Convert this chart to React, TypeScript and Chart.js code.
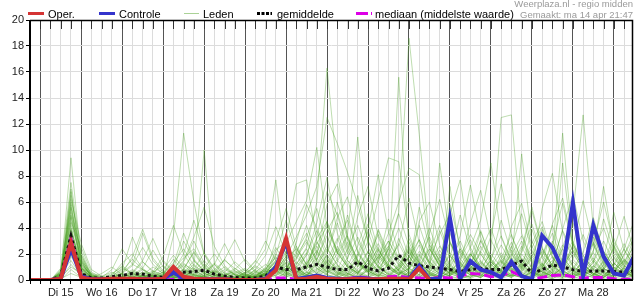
import React, { useEffect, useRef } from 'react';
import { Chart, registerables } from 'chart.js';

Chart.register(...registerables);

// Time axis: one step = 6 hours, step 0 = ma 14 18:00
const dayLabels = ['Di 15', 'Wo 16', 'Do 17', 'Vr 18', 'Za 19', 'Zo 20', 'Ma 21', 'Di 22', 'Wo 23', 'Do 24', 'Vr 25', 'Za 26', 'Zo 27', 'Ma 28'];
const yTicks = [0, 2, 4, 6, 8, 10, 12, 14, 16, 18, 20];

const oper: (number | null)[] = [
  0, 0, 0, 0.1, 2.85, 0.2, 0.05, 0.05, 0.1, 0.1,
  0.1, 0.05, 0.05, 0.1, 1.0, 0.25, 0.1, 0.05, 0.05, 0.05,
  0, 0, 0, 0.05, 0.75, 3.2, 0.05, 0.1, 0.25, 0.1,
  0.05, 0.05, 0.1, 0.05, 0.05, 0.1, 0.1, 0.05, 0.9, 0,
  null, null, null, null, null, null, null, null, null, null,
  null, null, null, null, null, null, null, null, null, null,
];

const controle = [
  0, 0, 0, 0.1, 2.4, 0.3, 0.05, 0.05, 0.05, 0.05,
  0.05, 0.05, 0.05, 0.1, 0.6, 0.1, 0.05, 0.05, 0.05, 0.05,
  0, 0, 0, 0.1, 1.0, 2.9, 0.1, 0.2, 0.35, 0.15,
  0.1, 0.05, 0.15, 0.1, 0.05, 0.05, 0.1, 0.1, 1.1, 0.05,
  0.1, 4.75, 0.1, 1.45, 0.8, 0.6, 0.2, 1.4, 0.3, 0.05,
  3.4, 2.5, 0.8, 5.95, 0.35, 4.2, 1.8, 0.5, 0.35, 1.85,
];

const gemiddelde = [
  0, 0, 0, 0.3, 3.4, 0.5, 0.15, 0.15, 0.25, 0.35,
  0.5, 0.45, 0.3, 0.2, 0.5, 0.6, 0.65, 0.75, 0.45, 0.3,
  0.2, 0.15, 0.15, 0.3, 1.0, 0.8, 0.8, 1.0, 1.2, 1.0,
  0.8, 0.8, 1.4, 0.9, 0.7, 0.9, 1.9, 1.3, 1.1, 1.0,
  0.9, 0.8, 0.65, 0.8, 0.9, 0.8, 0.8, 1.15, 1.45, 0.5,
  0.8, 1.15, 1.0, 0.8, 0.65, 0.7, 0.7, 0.65, 0.6, 0.7,
];

const mediaan = [
  0, 0, 0, 0.1, 3.2, 0.2, 0, 0, 0, 0,
  0.05, 0.05, 0, 0, 0.05, 0.1, 0.05, 0.05, 0, 0,
  0, 0, 0, 0, 0.15, 0.15, 0.05, 0.05, 0.1, 0.05,
  0.05, 0.1, 0.25, 0.15, 0.05, 0.25, 0.3, 0.2, 0.15, 0.1,
  0.2, 0.15, 0.3, 0.5, 0.45, 0.25, 0.3, 0.65, 0.3, 0.05,
  0.2, 0.35, 0.4, 0.25, 0.15, 0.2, 0.2, 0.1, 0.05, 0.05,
];

// Ensemble members ("Leden")
const leden: number[][] = [
  [0,0,0,0.5,9.4,1.5,0.1,0,0.2,0.4, 0.3,0.1,0,0.2,0.5,1.2,0.8,0.3,0.1,0, 0,0.2,0.5,0.3,1.2,2.5,1.8,0.9,3.2,4.5, 2.1,1.0,0.6,1.5,2.8,1.2,0.4,0.9,2.2,1.4, 0.6,0.3,1.8,3.5,2.0,0.8,0.5,1.1,2.6,0.9, 0.4,1.3,3.8,2.2,0.7,0.3,1.2,2.9,1.6,0.8],
  [0,0,0,0.8,7.5,2.0,0.3,0.1,0,0, 0.2,0.6,0.3,0.1,3.4,11.3,6.0,2.0,0.5,0.2, 0.1,0,0.3,0.8,2.0,1.1,0.5,1.4,2.9,1.6, 0.8,2.4,4.2,2.0,1.0,0.5,0.3,1.8,3.1,1.2, 0.4,2.8,1.1,0.6,0.3,1.5,4.6,2.1,0.9,0.4, 0.2,0.9,2.4,1.0,0.5,3.3,1.4,0.6,0.3,1.0],
  [0,0,0,0.3,7.0,1.0,0.2,0,0.1,0.6, 1.2,0.8,0.2,0,0.3,0.5,1.0,10.0,1.2,0.3, 0.1,0.4,0.2,0.5,1.5,0.8,2.2,3.6,1.5,0.7, 0.4,1.1,2.6,5.1,2.3,1.0,0.6,0.3,0.9,2.7, 1.5,0.7,0.4,1.2,3.0,1.4,0.6,0.3,1.1,2.5, 4.1,1.8,0.7,0.3,1.5,2.8,0.9,0.4,2.0,3.2],
  [0,0,0,0.2,6.5,1.8,0.2,0,0,0.1, 0.2,0.4,0.1,0,0.2,0.6,0.4,0.2,0.8,1.5, 0.9,0.3,0.1,0.4,2.3,3.0,1.2,2.5,6.0,16.3, 8.3,3.2,1.5,0.8,1.8,3.0,1.6,0.7,0.4,1.3, 2.6,1.1,0.5,0.2,0.9,2.0,1.0,0.4,0.2,0.7, 1.9,3.6,1.4,0.6,0.3,0.8,2.2,1.0,0.5,0.3],
  [0,0,0,0.6,6.0,1.2,0.4,0.2,0,0, 0.1,0.3,0.7,0.4,0.9,1.7,2.4,1.1,0.4,0.1, 0,0.1,0.6,1.2,0.7,1.8,3.3,5.0,7.2,12.5, 10.5,8.3,5.8,3.0,1.4,0.6,1.0,2.4,1.3,0.5, 0.3,1.0,2.2,0.9,0.4,0.2,0.8,1.9,3.4,1.5, 0.6,0.3,1.1,2.6,1.2,0.5,0.2,0.7,1.6,0.8],
  [0,0,0,0.1,5.5,0.7,0,0,0.3,0.9, 0.5,0.2,0,0.1,0.4,0.2,0.8,2.1,0.9,0.3, 0.2,0.5,1.1,0.6,0.9,2.8,4.5,6.1,10.2,4.0, 2.2,1.0,0.5,1.6,3.9,2.0,0.8,0.4,1.5,3.3, 1.4,0.6,0.3,2.0,1.0,0.4,1.3,2.9,1.2,0.5, 2.4,1.1,0.5,0.2,0.9,2.3,4.0,1.8,0.7,0.3],
  [0,0,0,0.4,5.0,1.5,0.5,0.1,0,0, 0,0.1,0.3,0.8,1.9,0.9,0.4,0.2,0.1,0.3, 0.7,0.4,0.1,0.2,0.8,1.6,2.4,1.2,2.8,4.1, 2.0,3.5,11.0,2.5,1.1,0.5,0.9,2.1,1.0,0.4, 0.2,0.6,1.6,3.1,1.4,0.6,0.3,1.0,2.1,4.3, 1.9,0.8,0.4,1.4,0.6,0.3,0.9,2.5,1.1,0.5],
  [0,0,0,0.2,4.8,1.0,0.2,0,0.4,1.3, 2.0,0.9,0.3,0.1,0.6,1.3,0.6,0.2,0,0, 0.1,0.3,0.2,0.5,1.1,0.6,1.7,2.9,1.5,3.8, 5.2,2.6,1.2,3.0,6.2,9.4,9.1,3.5,1.4,0.6, 1.5,0.7,0.3,0.9,2.2,1.0,0.5,0.2,0.6,1.8, 0.8,3.0,1.3,0.5,0.2,1.1,0.5,0.3,1.4,2.6],
  [0,0,0,0.5,4.5,2.5,0.6,0.2,0.1,0.3, 0.8,0.4,0.1,0,0.1,0.5,1.5,0.7,0.3,0.6, 1.4,0.7,0.3,0.9,1.7,1.0,0.5,1.3,2.2,1.1, 3.0,4.6,2.1,1.0,2.5,1.0,15.6,2.2,0.8,0.4, 1.2,2.9,1.3,0.5,0.2,0.7,1.5,0.6,0.3,1.0, 2.2,1.0,0.4,0.2,0.8,1.7,0.7,0.3,0.9,2.0],
  [0,0,0,0.3,4.0,0.8,0.1,0,0,0.2, 0.5,1.4,0.7,0.3,0.8,0.4,0.1,0.5,1.3,0.6, 0.2,0.1,0.4,0.2,0.6,1.4,0.7,0.3,1.1,2.4, 1.2,0.5,1.8,3.7,1.6,2.6,5.2,18.6,11.2,3.0, 1.3,0.5,0.9,2.1,0.8,0.3,0.6,1.7,0.8,0.3, 0.9,2.3,1.0,0.4,1.6,0.7,0.3,1.1,2.4,1.0],
  [0,0,0,0.2,3.8,1.2,0.3,0.1,0.2,0.5, 0.2,0,0.3,0.6,1.3,2.4,1.1,0.5,0.2,0.1, 0,0.3,0.8,0.4,1.0,0.5,1.9,3.1,1.4,0.6, 1.4,2.9,1.3,0.6,1.7,3.6,6.0,8.6,8.1,2.7, 1.0,0.4,1.3,0.6,2.2,4.0,1.7,0.7,0.3,1.2, 0.5,0.2,1.6,3.0,1.3,0.5,0.2,0.9,0.4,1.5],
  [0,0,0,0.6,3.5,0.9,0.2,0,0,0, 0.1,0.2,0.5,0.3,0.1,0.4,0.9,0.5,0.2,0.4, 0.6,0.3,1.2,2.4,7.7,1.5,0.6,0.9,2.3,1.0, 0.5,1.7,3.3,1.5,0.7,0.3,1.2,2.5,1.1,0.5, 9.0,3.0,1.2,0.5,1.4,0.6,0.3,2.3,1.0,0.4, 1.3,0.5,9.0,2.5,1.0,0.4,0.2,0.6,1.5,0.7],
  [0,0,0,0.1,3.2,0.5,0,0,0.1,0.3, 0.6,0.3,0.1,0,0.2,0.8,0.4,0.1,0,0.2, 0.5,0.9,0.4,0.7,1.5,3.2,7.4,7.7,3.0,1.3, 0.6,0.3,1.0,2.2,1.0,0.4,0.2,0.8,1.9,0.8, 0.4,7.2,2.0,0.8,0.3,1.1,2.7,1.2,0.5,0.2, 0.8,1.8,0.7,0.3,1.0,2.1,0.9,0.4,0.2,0.6],
  [0,0,0,0.4,3.0,1.1,0.4,0.2,0.5,1.0, 0.4,0.2,0.6,1.1,0.5,0.2,0.1,0.3,0.7,0.3, 0.1,0,0.2,0.5,1.2,0.6,0.3,1.0,2.0,4.5, 2.1,1.0,0.5,1.3,2.4,1.1,0.5,0.9,2.0,1.0, 0.5,1.4,3.0,1.3,0.6,2.3,12.5,12.7,3.6,1.4, 0.6,0.3,1.0,2.3,1.0,0.4,1.5,3.2,1.4,0.6],
  [0,0,0,0.2,2.8,0.6,0.1,0,0,0, 0.3,0.8,0.4,0.1,0.9,3.0,1.5,0.6,0.2,0, 0,0.2,0.6,0.3,0.8,1.8,0.9,0.4,1.2,2.6, 6.0,3.1,1.4,0.6,1.1,2.4,1.1,0.5,0.2,0.9, 2.0,0.9,0.4,0.2,0.6,1.5,0.7,0.3,1.3,2.8, 4.5,2.0,11.3,2.8,1.2,0.5,0.9,2.0,0.8,0.4],
  [0,0,0,0.7,2.5,1.4,0.3,0.1,0,0.1, 0.2,0.1,0,0.2,0.5,1.1,0.5,0.2,0.1,0.4, 0.9,0.4,0.2,0.6,1.4,0.7,2.6,1.2,0.5,1.5, 3.2,1.5,0.7,0.3,1.4,3.0,1.4,0.6,0.3,1.0, 2.3,1.0,0.5,1.8,3.8,1.6,0.7,0.3,0.9,2.0, 0.9,0.4,2.5,5.0,12.7,4.0,1.5,0.6,0.3,1.2],
  [0,0,0,0.3,2.2,0.9,0.5,0.3,0.6,0.2, 0.1,0,0.2,0.4,1.6,0.7,0.3,0.1,0.5,1.0, 0.4,0.2,0.1,0.3,0.9,2.2,1.0,0.4,0.8,1.9, 0.9,0.4,2.0,4.3,2.0,0.9,0.4,1.4,3.1,1.4, 0.6,0.3,1.1,2.5,4.6,9.0,3.3,1.4,9.7,3.0, 1.2,0.5,0.2,0.8,1.9,0.8,0.3,1.2,2.8,1.2],
  [0,0,0,0.1,2.0,0.4,0,0,0.2,0.7, 1.6,0.8,0.3,0.1,0.3,0.8,2.2,1.0,0.4,0.1, 0,0.1,0.3,0.9,0.5,1.1,0.5,2.0,3.8,1.7, 0.8,0.4,1.2,0.5,0.2,1.3,2.8,1.3,0.6,1.6, 3.5,5.1,7.7,2.5,1.0,0.4,0.2,0.8,1.7,0.7, 0.3,1.2,2.7,1.1,0.5,2.2,7.2,2.4,0.9,0.4],
  [0,0,0,0.5,1.5,0.3,0.1,0,0,0.1, 0.4,0.9,2.3,1.0,0.4,0.2,0.7,1.5,0.6,0.2, 0.1,0.5,1.0,0.4,0.7,0.3,1.4,0.6,0.3,1.0, 2.4,1.1,0.5,2.2,1.0,0.4,0.8,1.7,4.2,1.8, 0.8,0.3,0.9,2.0,0.9,0.4,1.2,2.6,1.1,0.5, 1.8,4.2,1.8,0.7,0.3,1.0,2.2,1.0,0.4,0.2],
  [0,0,0,0.2,1.0,0.5,0.2,0.1,0.3,0.8, 3.3,1.4,0.6,0.2,0.1,0.5,1.2,0.5,0.2,0.1, 0.3,0.8,0.3,0.1,0.6,1.3,0.6,0.2,1.6,3.4, 1.5,0.7,0.3,0.9,2.0,0.9,0.4,2.9,1.3,0.6, 1.7,3.6,1.6,0.7,0.3,1.0,2.1,0.9,0.4,0.2, 0.7,1.5,0.6,2.8,1.2,0.5,0.2,0.8,1.9,3.7],
  [0,0,0,0.9,5.2,2.2,0.4,0.1,0.1,0.5, 1.1,2.5,1.2,0.5,0.2,0.1,0.3,0.9,2.0,0.9, 0.4,0.1,0.2,1.0,2.5,1.2,0.5,0.3,1.3,0.6, 0.3,1.5,0.6,0.2,0.9,1.9,4.0,1.8,0.8,0.3, 1.1,0.5,2.4,1.1,0.5,1.6,3.4,1.5,0.6,0.3, 1.0,2.2,1.0,4.4,1.9,0.8,0.3,1.3,0.6,0.2],
  [0,0,0,0.3,6.8,1.6,0.2,0,0,0, 0.1,0.3,0.1,0.5,1.2,3.6,1.6,0.7,0.3,0.1, 0,0.2,0.4,0.2,1.3,0.6,1.6,3.3,5.5,2.5, 1.1,0.5,0.2,0.8,1.8,0.8,3.2,1.4,0.6,0.3, 0.8,1.9,0.8,0.4,1.3,0.6,0.3,1.0,2.4,5.6, 2.5,1.1,0.5,0.2,0.6,1.5,0.7,2.6,1.1,0.5],
  [0,0,0,0.6,4.2,0.6,0.2,0.5,1.0,0.4, 0.2,0.1,0.4,1.5,0.7,0.3,0.1,0.2,0.6,1.6, 0.7,0.3,0.1,0.5,1.0,2.0,0.9,0.4,0.2,0.9, 2.0,5.0,2.2,1.0,0.4,0.2,1.1,2.3,1.0,0.4, 0.2,0.6,1.4,0.6,3.1,1.4,0.6,0.3,1.0,2.2, 1.0,0.4,0.2,0.9,2.1,4.8,2.0,0.8,0.4,1.1],
  [0,0,0,0.4,3.4,1.3,0.3,0,0,0.2, 0.7,0.3,0.1,0.3,0.9,0.4,0.2,0.6,1.2,0.5, 0.2,0.6,1.5,0.7,0.3,0.9,2.0,4.2,2.0,5.8, 7.4,3.3,1.4,0.6,0.3,0.9,2.0,0.9,0.4,2.1, 4.2,1.9,0.8,0.4,0.2,0.7,1.6,3.5,1.5,0.7, 0.3,0.8,1.7,0.8,0.3,1.4,3.0,1.3,0.6,0.3],
  [0,0,0,0.1,2.6,0.8,0.3,0.1,0,0, 0,0.2,0.5,0.2,0.6,1.4,3.0,1.3,0.5,0.2, 0.1,0.4,0.2,0.8,1.8,0.8,0.4,1.2,2.6,1.2, 0.5,0.2,0.8,1.7,3.5,1.6,0.7,0.3,1.1,2.4, 1.1,0.5,0.2,0.9,2.0,0.9,0.4,1.4,3.0,1.3, 0.6,0.3,0.9,2.0,0.9,0.4,1.1,2.4,4.9,2.1],
  [0,0,0,0.3,1.8,0.6,0.1,0,0.1,0.3, 0.1,0.4,1.0,0.5,0.2,0.6,0.3,0.1,0,0.3, 0.8,1.6,0.7,0.3,1.1,0.5,1.2,2.4,1.1,0.5, 1.6,3.4,1.5,0.7,0.3,1.2,0.5,0.2,1.8,4.0, 1.8,0.8,0.3,1.2,2.6,1.2,0.5,0.2,0.8,1.8, 3.9,1.7,0.7,0.3,1.2,0.5,0.2,0.7,1.5,0.7],
  [0,0,0,0.1,0.5,0.2,0,0.1,0.4,1.1, 0.5,0.2,0.1,0.4,1.0,0.5,0.2,0.1,0.3,0.8, 0.4,0.2,0.1,0.3,0.7,0.3,0.9,0.4,2.0,0.9, 0.4,0.9,2.0,0.9,3.8,1.7,0.7,0.3,1.0,0.5, 0.2,1.1,2.4,1.0,0.5,1.2,0.5,0.2,0.7,1.6, 0.7,0.3,1.0,2.3,1.0,0.4,1.4,0.6,0.3,0.9],
  [0,0,0,0.5,2.9,1.0,0.2,0.2,0.8,2.4, 1.2,3.6,1.5,0.6,0.2,0.1,0.4,1.0,0.4,0.2, 0.1,0.1,0.3,0.7,0.3,1.6,0.8,0.3,0.7,1.6, 0.7,0.3,1.3,0.6,2.3,1.0,0.4,1.2,2.7,1.2, 0.5,2.1,1.0,0.4,0.2,0.6,1.4,0.6,2.0,0.9, 0.4,0.2,0.7,1.6,3.5,1.5,0.6,0.3,1.0,2.3],
  [0,0,0,0.4,3.6,0.7,0.2,0,0,0, 0.2,0.6,0.3,0.2,0.7,2.0,4.6,2.0,0.8,0.3, 0.1,0,0.2,0.5,0.9,0.4,1.0,2.1,0.9,0.4, 0.2,0.7,1.5,0.7,0.3,2.6,1.2,0.5,0.2,0.8, 1.8,0.8,0.3,1.0,0.4,0.2,0.9,2.0,0.9,3.9, 1.7,0.7,0.3,1.0,0.4,0.2,0.8,1.7,0.7,0.3],
  [0,0,0,0.2,2.3,0.4,0.1,0,0,0.1, 0.3,0.1,0,0.1,0.3,0.8,0.4,0.2,0.1,0, 0.2,0.5,0.2,0.4,1.0,0.5,0.2,0.6,1.3,0.6, 2.6,1.2,0.5,0.2,0.7,1.5,0.7,3.2,1.4,0.6, 0.3,0.9,0.4,2.0,0.9,0.4,0.2,0.6,1.3,0.6, 0.2,0.7,1.5,0.7,0.3,1.1,0.5,0.2,0.7,1.4],
  [0,0,0,0.1,1.2,0.3,0,0,0,0, 0.1,0.2,0.1,0,0.2,0.5,0.2,0.1,0,0, 0,0.1,0.3,0.1,0.4,0.9,0.4,0.2,0.5,1.1, 0.5,0.2,0.6,1.3,0.6,0.3,0.1,0.5,1.0,0.4, 0.2,0.4,0.9,0.4,0.2,0.7,1.5,0.7,0.3,0.1, 0.5,1.1,0.5,0.2,0.6,1.3,0.6,0.2,0.1,0.4],
  [0,0,0,0.7,4.4,1.7,0.3,0.1,0,0, 0,0.1,0.2,0.6,0.3,0.1,0.5,1.2,0.5,0.2, 0.4,0.2,0.1,0.6,1.4,0.6,0.3,0.8,1.7,0.8, 0.3,0.9,0.4,1.6,0.7,0.3,0.8,1.8,0.8,2.4, 1.1,0.5,0.2,0.7,1.5,0.7,0.3,0.9,0.4,0.2, 1.2,0.5,0.2,0.6,1.4,2.9,1.3,0.5,0.2,0.8],
  [0,0,0,0.5,5.8,0.9,0.1,0,0.2,0.5, 0.2,0.1,0.3,0.2,0.1,0.3,0.7,0.3,0.1,0.2, 0.5,0.2,0.1,0.4,0.8,0.4,0.2,0.6,0.3,1.4, 0.6,0.3,0.1,0.4,1.0,0.4,0.2,0.6,1.3,0.6, 0.3,1.2,0.5,0.2,0.6,0.3,1.9,0.8,0.4,0.2, 0.7,0.3,0.1,0.5,0.2,0.9,0.4,0.2,0.6,0.3],
  [0,0,0,0,0.8,0.2,0,0,0,0, 0,0.1,0.3,0.1,0,0.2,0.1,0,0.2,0.5, 0.2,0.1,0,0.2,0.5,0.2,0.7,0.3,0.1,0.5, 1.1,0.5,0.2,0.7,0.3,0.1,0.4,0.9,0.4,0.2, 0.6,0.3,0.1,0.4,0.9,0.4,0.2,0.5,1.2,0.5, 0.2,0.6,0.3,0.1,0.4,0.2,0.6,1.3,0.6,0.2],
  [0,0,0,0.3,3.9,1.1,0.2,0,0,0.2, 0.5,0.2,0.1,0,0.2,0.1,0,0.3,0.7,0.3, 0.1,0.3,0.7,0.3,0.6,0.3,0.1,0.4,0.9,0.4, 0.2,0.5,0.2,0.8,0.4,0.2,0.6,0.3,0.1,0.5, 0.2,0.7,0.3,0.1,0.5,0.2,0.8,0.4,0.2,0.6, 0.3,0.1,0.5,0.2,0.7,0.3,0.1,0.4,0.9,0.4],
  [0,0,0,0.2,2.0,0.5,0.1,0,0,0, 0.1,0,0.1,0.2,0.5,0.2,0.1,0,0.1,0.3, 0.1,0,0.2,0.4,0.2,0.5,0.2,0.1,0.3,0.7, 0.3,0.1,0.4,0.2,0.5,0.2,0.1,0.6,0.3,0.1, 0.4,0.2,0.1,0.3,0.7,0.3,0.1,0.4,0.2,0.6, 0.3,0.1,0.5,0.2,0.1,0.4,0.9,0.4,0.2,0.1],
  [0,0,0,0.4,5.6,1.9,0.4,0.1,0,0, 0.1,0.2,0.6,1.8,4.2,2.0,0.8,0.3,0.1,0, 0.2,0.6,1.4,3.0,1.5,0.7,2.9,5.8,4.0,2.1, 4.8,6.4,3.0,1.4,0.6,2.4,5.1,2.6,1.2,3.6, 6.2,2.9,1.3,4.4,6.9,3.1,1.4,0.6,2.2,5.3, 2.4,1.1,3.9,6.6,3.0,1.3,4.7,2.2,1.0,2.9],
  [0,0,0,0.2,6.2,2.8,0.8,0.3,0.1,0, 0,0.1,0.4,0.2,0.6,1.5,3.3,5.6,2.6,1.1, 0.4,0.2,0.8,1.9,4.1,2.0,0.9,1.9,4.4,7.9, 3.6,1.6,4.9,7.2,3.3,1.5,2.7,6.3,2.9,1.3, 3.8,1.7,5.0,2.3,1.0,3.4,7.4,3.4,1.5,0.7, 5.5,8.2,3.7,1.6,0.7,2.8,6.0,2.7,1.2,3.3],
  [0,0,0,0.6,4.9,1.4,0.2,0,0.1,0.5, 1.8,3.9,1.7,0.7,0.3,0.9,2.1,0.9,0.4,1.6, 3.1,1.4,0.6,0.3,1.9,4.6,2.1,0.9,3.3,6.8, 5.0,2.3,1.0,3.9,8.1,3.7,1.6,0.7,4.5,6.0, 2.7,1.2,3.4,7.3,3.3,1.4,0.6,4.1,5.9,2.6, 1.1,4.3,6.3,2.8,1.2,3.6,1.6,5.2,2.3,1.0],
  [0,0,0,0.3,3.1,0.9,0.1,0,0,0.2, 0.6,1.5,3.2,1.4,0.6,0.2,0.1,0.4,1.2,2.8, 1.2,0.5,0.2,0.6,3.0,5.5,2.5,1.1,0.5,2.0, 4.4,2.0,6.5,3.0,1.3,4.7,2.1,0.9,5.6,2.5, 1.1,5.8,2.6,1.1,3.7,1.6,0.7,2.5,5.1,2.3, 1.0,2.7,5.9,2.6,6.1,2.7,1.2,0.5,2.4,4.6],
];

const X_MAX = 58.87;
const tickValues = Array.from({ length: 59 }, (_, i) => i);

const RED = 'rgb(212,52,52)';
const BLUE = 'rgb(52,52,204)';
const GREEN = 'rgba(75,160,35,0.36)';
const MAGENTA = 'rgb(220,0,230)';
const FONT = '"Liberation Sans", Arial, Helvetica, sans-serif';

const toPoints = (arr: (number | null)[]) => arr.map((v, i) => ({ x: i, y: v }));

const decor = {
  id: 'decor',
  afterDraw(chart: any) {
    const { ctx, chartArea: a, scales } = chart;
    const xs = scales.x;
    ctx.save();
    // short ticks along the top edge
    ctx.strokeStyle = '#333';
    ctx.lineWidth = 1;
    for (const v of tickValues) {
      const px = Math.round(xs.getPixelForValue(v)) + 0.5;
      ctx.beginPath();
      ctx.moveTo(px, a.top);
      ctx.lineTo(px, a.top + 9);
      ctx.stroke();
    }
    // frame
    ctx.strokeStyle = '#000';
    ctx.lineWidth = 2;
    ctx.beginPath();
    ctx.moveTo(a.left, a.top);
    ctx.lineTo(a.left, a.bottom);
    ctx.lineTo(a.right, a.bottom);
    ctx.stroke();
    ctx.lineWidth = 1.5;
    ctx.beginPath();
    ctx.moveTo(a.left, a.top + 0.5);
    ctx.lineTo(a.right - 0.5, a.top + 0.5);
    ctx.lineTo(a.right - 0.5, a.bottom);
    ctx.stroke();

    // legend
    const ly = 13.5;
    ctx.font = '11px ' + FONT;
    ctx.fillStyle = '#000';
    ctx.textBaseline = 'alphabetic';
    const seg = (x1: number, x2: number, color: string, w: number, dash: number[]) => {
      ctx.save();
      ctx.strokeStyle = color;
      ctx.lineWidth = w;
      ctx.setLineDash(dash);
      ctx.beginPath();
      ctx.moveTo(x1, ly);
      ctx.lineTo(x2, ly);
      ctx.stroke();
      ctx.restore();
    };
    seg(28, 44, RED, 3, []);
    ctx.fillText('Oper.', 48, 17.5);
    seg(99, 115, BLUE, 3, []);
    ctx.fillText('Controle', 119, 17.5);
    seg(184, 199, 'rgb(170,210,150)', 1, []);
    ctx.fillText('Leden', 203, 17.5);
    seg(257, 272, '#000', 3, [3, 1.5]);
    ctx.fillText('gemiddelde', 277, 17.5);
    seg(356, 372, MAGENTA, 3, [12, 3]);
    ctx.fillText('mediaan (middelste waarde)', 375, 17.5);

    // header
    ctx.font = '9.5px ' + FONT;
    ctx.fillStyle = '#9a9a9a';
    ctx.textAlign = 'right';
    ctx.fillText('Weerplaza.nl - regio midden', 633, 7);
    ctx.fillText('Gemaakt: ma 14 apr 21:47', 633, 17.5);
    ctx.restore();
  },
};

export default function App() {
  const ref = useRef<HTMLCanvasElement>(null);

  useEffect(() => {
    if (!ref.current) return;
    const datasets: any[] = [
      { label: 'Oper.', data: toPoints(oper), borderColor: RED, borderWidth: 4, order: 0 },
      { label: 'Controle', data: toPoints(controle), borderColor: BLUE, borderWidth: 4, order: 1 },
      { label: 'gemiddelde', data: toPoints(gemiddelde), borderColor: '#111', borderWidth: 3, borderDash: [3, 3], order: 2 },
      { label: 'mediaan (middelste waarde)', data: toPoints(mediaan), borderColor: MAGENTA, borderWidth: 3, borderDash: [10, 4], order: 3 },
      ...leden.map((m, k) => ({
        label: 'Leden ' + (k + 1),
        data: toPoints(m),
        borderColor: GREEN,
        borderWidth: 1,
        order: 4,
      })),
    ];
    const chart = new Chart(ref.current, {
      type: 'line',
      data: { datasets },
      options: {
        animation: false,
        responsive: false,
        events: [],
        layout: { padding: { top: 20, right: 2, left: 0, bottom: 0 } },
        elements: { point: { radius: 0 }, line: { tension: 0 } },
        plugins: { legend: { display: false }, tooltip: { enabled: false } },
        scales: {
          x: {
            type: 'linear',
            min: 0,
            max: X_MAX,
            afterBuildTicks: (s: any) => {
              s.ticks = tickValues.map((v) => ({ value: v }));
            },
            afterFit: (s: any) => {
              s.height = 20;
            },
            border: { display: false },
            grid: {
              color: (c: any) => (c.tick && c.tick.value % 4 === 1 ? '#555' : '#dcdcdc'),
              lineWidth: 1,
              tickLength: 4,
              tickColor: '#000',
            },
            ticks: {
              autoSkip: false,
              maxRotation: 0,
              minRotation: 0,
              padding: 2,
              color: '#222',
              font: { family: FONT, size: 11 },
              callback: (v: any) => (v % 4 === 3 ? dayLabels[(v - 3) / 4] : ''),
            },
          },
          y: {
            min: 0,
            max: 20,
            afterBuildTicks: (s: any) => {
              s.ticks = yTicks.map((v) => ({ value: v }));
            },
            afterFit: (s: any) => {
              s.width = 30;
            },
            border: { display: false },
            grid: { color: '#dcdcdc', lineWidth: 1, tickLength: 4, tickColor: '#000' },
            ticks: { padding: 2, color: '#222', font: { family: FONT, size: 11 } },
          },
        },
      },
      plugins: [decor],
    });
    return () => chart.destroy();
  }, []);

  return (
    <div style={{ position: 'absolute', left: 0, top: 0, width: 635, height: 300 }}>
      <canvas ref={ref} width={635} height={300} style={{ display: 'block' }} />
    </div>
  );
}
